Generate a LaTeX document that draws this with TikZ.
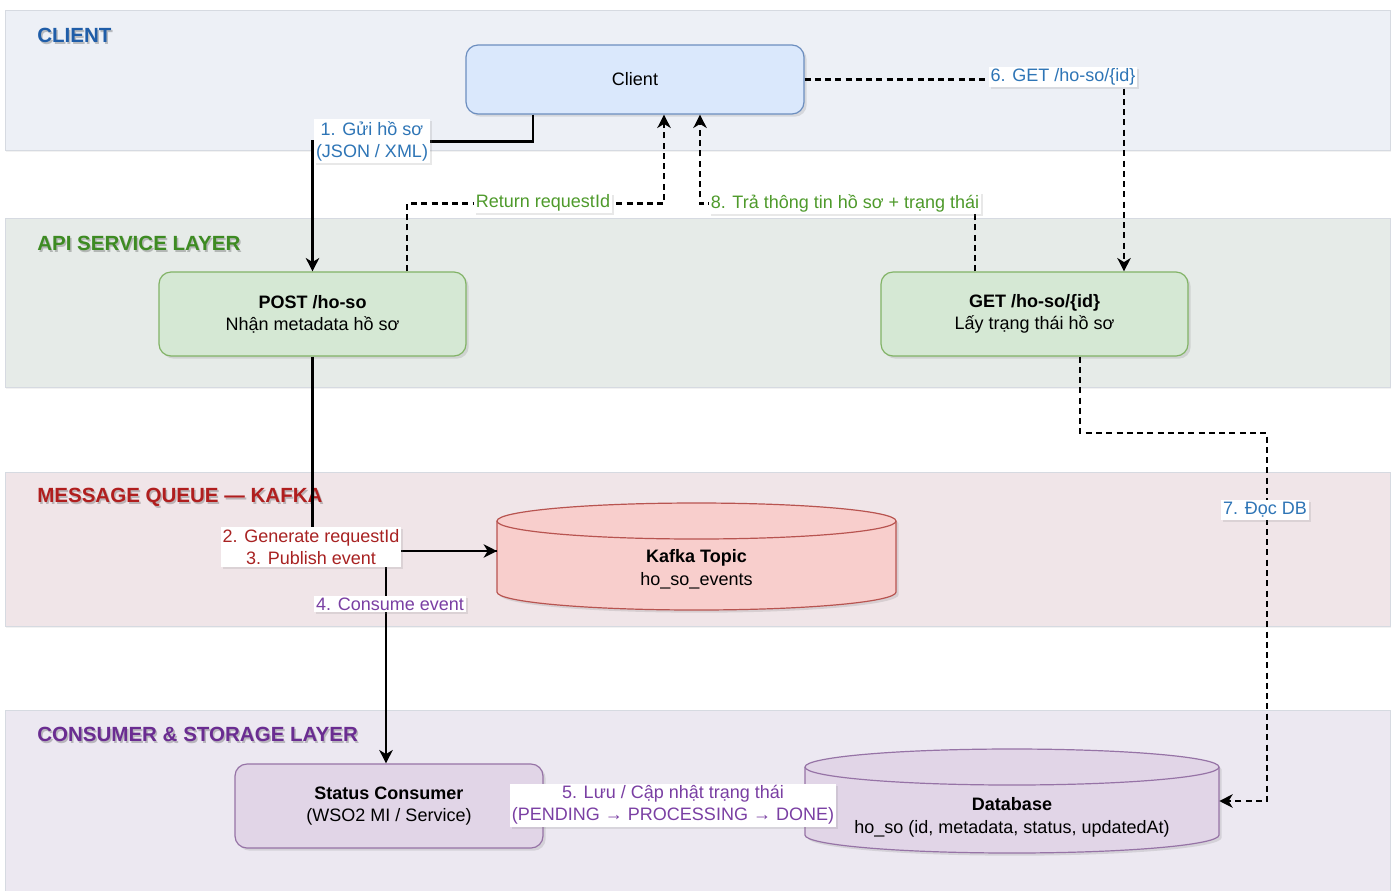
\documentclass[tikz,border=0pt]{standalone}
\usepackage{fontspec}
\setmainfont{Liberation Sans}
\usetikzlibrary{calc,shadows,arrows.meta}
\definecolor{laneC}{HTML}{EDF0F6}
\definecolor{laneA}{HTML}{E6EBE8}
\definecolor{laneK}{HTML}{F0E5E8}
\definecolor{laneS}{HTML}{ECE8F1}
\definecolor{laneB}{HTML}{D6DAE1}
\definecolor{tblue}{HTML}{1F5DA8}
\definecolor{lblue}{HTML}{2E75B6}
\definecolor{tgreen}{HTML}{3D8B22}
\definecolor{lgreen}{HTML}{4E9A2B}
\definecolor{tred}{HTML}{B01E1E}
\definecolor{lred}{HTML}{A82222}
\definecolor{tpurple}{HTML}{6A2C91}
\definecolor{lpurple}{HTML}{7A3FA3}
\definecolor{bluefill}{HTML}{DAE8FC}
\definecolor{bluedraw}{HTML}{6C8EBF}
\definecolor{greenfill}{HTML}{D5E8D4}
\definecolor{greendraw}{HTML}{82B366}
\definecolor{redfill}{HTML}{F8CECC}
\definecolor{reddraw}{HTML}{B85450}
\definecolor{purplefill}{HTML}{E1D5E7}
\definecolor{purpledraw}{HTML}{9673A6}
\tikzset{
  lane/.style={draw=laneB, line width=0.6pt, drop shadow={opacity=0.10, shadow xshift=1pt, shadow yshift=-1.5pt}},
  lanetitle/.style={anchor=west, inner sep=0pt, font=\bfseries\fontsize{15.4}{18}\selectfont},
  titleshadow/.style={lanetitle, text=black, opacity=0.22},
  box/.style={draw, rounded corners=9pt, line width=0.9pt, align=center, inner sep=0pt,
    font=\fontsize{13.5}{16.5}\selectfont, drop shadow={opacity=0.22, shadow xshift=2pt, shadow yshift=-2pt}},
  cyltext/.style={align=center, inner sep=0pt, font=\fontsize{13.5}{17}\selectfont},
  lbl/.style={fill=white, inner sep=1.5pt, align=center, font=\fontsize{13.5}{16.5}\selectfont,
    drop shadow={opacity=0.18, shadow xshift=1.5pt, shadow yshift=-1.5pt}},
  solidc/.style={line width=1.8pt, -{Stealth[length=10pt,width=10pt,inset=3pt]}},
  dashc/.style={line width=1.8pt, dash pattern=on 4.5pt off 3.2pt, -{Stealth[length=10pt,width=10pt,inset=3pt]}},
}
\begin{document}
\begin{tikzpicture}[x=0.75pt,y=-0.75pt]
\useasboundingbox[fill=white] (0,0) rectangle (1395,890);
% lanes
\path[lane, fill=laneC] (5,10) rectangle (1390,150);
\path[lane, fill=laneA] (5,218) rectangle (1390,387);
\path[lane, fill=laneK] (5,472) rectangle (1390,626);
\path[lane, fill=laneS] (5,710) rectangle (1390,893);
% lane title shadows
\node[titleshadow] (sclient) at (38.5,37.5) {CLIENT};
\node[titleshadow] (sapi) at (38.5,245.5) {API SERVICE LAYER};
\node[titleshadow] (smq) at (38.5,499.5) {MESSAGE QUEUE — KAFKA};
\node[titleshadow] (scs) at (38.5,736.5) {CONSUMER \& STORAGE LAYER};
% lane titles
\node[lanetitle, text=tblue] (tclient) at (37,35) {CLIENT};
\node[lanetitle, text=tgreen] (tapi) at (37,243) {API SERVICE LAYER};
\node[lanetitle, text=tred] (tmq) at (37,497) {MESSAGE QUEUE — KAFKA};
\node[lanetitle, text=tpurple] (tcs) at (37,734) {CONSUMER \& STORAGE LAYER};
% nodes
\node[box, fill=bluefill, draw=bluedraw, minimum width=253.5pt, minimum height=51.75pt] (client) at (635,79.5) {Client};
\node[box, fill=greenfill, draw=greendraw, minimum width=230.25pt, minimum height=63pt] (post) at (312.5,314) {\textbf{POST /ho-so}\\Nhận metadata hồ sơ};
\node[box, fill=greenfill, draw=greendraw, minimum width=230.25pt, minimum height=63pt] (get) at (1034.5,314) {\textbf{GET /ho-so/\{id\}}\\Lấy trạng thái hồ sơ};
\node[box, fill=purplefill, draw=purpledraw, minimum width=231pt, minimum height=63pt] (consumer) at (389,806) {\textbf{Status Consumer}\\(WSO2 MI / Service)};
% Kafka cylinder
\node[inner sep=0pt, minimum width=299.25pt, minimum height=80.25pt] (kafka) at (696.5,556.5) {};
\path[fill=redfill, draw=reddraw, line width=0.9pt, drop shadow={opacity=0.22, shadow xshift=2pt, shadow yshift=-2pt}]
  (497,521) -- (497,592) arc[start angle=180,end angle=360,x radius=149.625pt,y radius=13.5pt]
  -- (896,521) arc[start angle=0,end angle=180,x radius=149.625pt,y radius=13.5pt] -- cycle;
\draw[reddraw, line width=0.9pt] (497,521) arc[start angle=180,end angle=360,x radius=149.625pt,y radius=13.5pt];
\node[cyltext] (kafkatxt) at (696.5,569) {\textbf{Kafka Topic}\\ho\_so\_events};
% Database cylinder
\node[inner sep=0pt, minimum width=310.5pt, minimum height=78pt] (db) at (1012,801) {};
\path[fill=purplefill, draw=purpledraw, line width=0.9pt, drop shadow={opacity=0.22, shadow xshift=2pt, shadow yshift=-2pt}]
  (805,767) -- (805,835) arc[start angle=180,end angle=360,x radius=155.25pt,y radius=13.5pt]
  -- (1219,767) arc[start angle=0,end angle=180,x radius=155.25pt,y radius=13.5pt] -- cycle;
\draw[purpledraw, line width=0.9pt] (805,767) arc[start angle=180,end angle=360,x radius=155.25pt,y radius=13.5pt];
\node[cyltext] (dbtxt) at (1012,817) {\textbf{Database}\\ho\_so (id, metadata, status, updatedAt)};
% coordinates
\coordinate (kin) at (497,551);
\coordinate (c7) at (1267,433);
% connectors
\draw[solidc] ($(client.south)+(-102,0)$) -- ++(0,27) -| (post.north);
\draw[dashc] ($(post.north)+(94.5,0)$) |- ($(client.south)+(29,89)$) -- ($(client.south)+(29,0)$);
\draw[dashc] ($(get.north)+(-59.5,0)$) |- ($(client.south)+(65,89)$) -- ($(client.south)+(65,0)$);
\draw[dashc] (client.east) -| ($(get.north)+(89.5,0)$);
\draw[solidc] (post.south) |- (kin);
\draw[solidc] (kin) -| ($(consumer.north)+(-3,0)$);
\draw[dashc] ($(get.south)+(45.5,0)$) |- (c7) |- (db.east);
\draw[solidc] (consumer.east) -- (consumer.east -| db.west);
% labels
\node[lbl, text=lblue] (l1) at (372,141) {1. Gửi hồ sơ\\(JSON / XML)};
\node[lbl, text=lgreen] (lret) at (543,203) {Return requestId};
\node[lbl, text=lgreen] (l8) at (845,203) {8. Trả thông tin hồ sơ + trạng thái};
\node[lbl, text=lblue] (l6) at (1063,77) {6. GET /ho-so/\{id\}};
\node[lbl, text=lred] (l23) at (311,547) {2. Generate requestId\\3. Publish event};
\node[lbl, text=lpurple] (l4) at (390,604) {4. Consume event};
\node[lbl, text=lblue] (l7) at (1265,510) {7. Đọc DB};
\node[lbl, text=lpurple] (l5) at (673,805) {5. Lưu / Cập nhật trạng thái\\(PENDING → PROCESSING → DONE)};
\end{tikzpicture}
\end{document}
